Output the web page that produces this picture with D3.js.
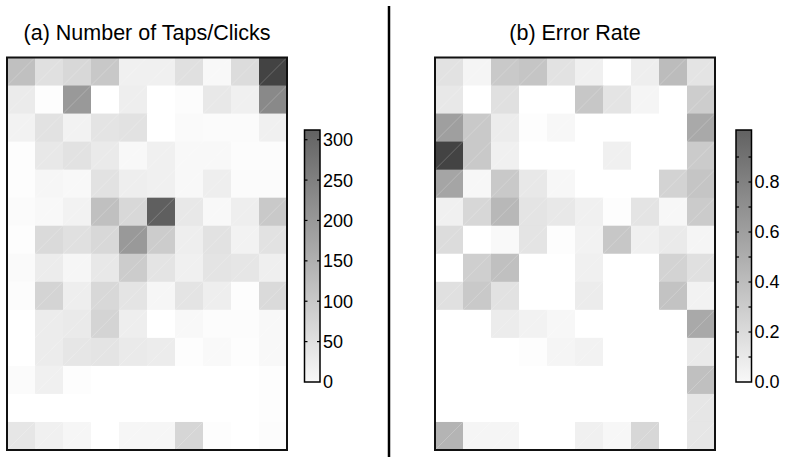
<!DOCTYPE html>
<html>
<head>
<meta charset="utf-8">
<script src="https://cdn.jsdelivr.net/npm/d3@7"></script>
<style>
  body { margin: 0; background: #fff; }
  svg text { font-family: "Liberation Sans", Arial, sans-serif; fill: #000; }
</style>
</head>
<body>
<div class="plot"></div>
<script>
// grid: 14 rows x 10 columns (top row first)
var cols = d3.range(10);
var rows = d3.range(14);

var taps = [
  [103, 51, 64, 90, 24, 24, 51, 11, 57, 305],
  [33, 3, 165, 0, 28, 0, 5, 38, 24, 191],
  [21, 47, 21, 44, 47, 0, 8, 7, 7, 24],
  [3, 38, 47, 34, 11, 24, 11, 11, 5, 5],
  [3, 15, 11, 47, 28, 24, 11, 28, 7, 7],
  [7, 11, 21, 103, 64, 260, 38, 11, 28, 87],
  [3, 60, 51, 64, 165, 83, 28, 47, 21, 47],
  [8, 31, 15, 38, 83, 44, 24, 44, 41, 26],
  [5, 70, 28, 64, 44, 15, 44, 28, 3, 60],
  [0, 31, 34, 70, 28, 0, 11, 5, 5, 11],
  [0, 31, 41, 44, 34, 31, 3, 10, 3, 11],
  [7, 24, 3, 0, 0, 0, 0, 0, 0, 3],
  [0, 0, 0, 0, 0, 0, 0, 0, 0, 3],
  [41, 24, 15, 0, 15, 15, 67, 3, 0, 5]
];

var errors = [
  [0.15, 0.05, 0.28, 0.30, 0.15, 0.08, 0, 0.09, 0.35, 0.14],
  [0.12, 0, 0.16, 0, 0, 0.29, 0.14, 0.05, 0, 0.26],
  [0.50, 0.28, 0.10, 0.01, 0.04, 0, 0, 0, 0, 0.45],
  [0.98, 0.28, 0.08, 0, 0, 0, 0.08, 0, 0, 0.27],
  [0.47, 0.04, 0.28, 0.12, 0.04, 0, 0, 0, 0.23, 0.30],
  [0.08, 0.21, 0.37, 0.14, 0.12, 0.08, 0.01, 0.14, 0.04, 0.27],
  [0.18, 0, 0.03, 0.14, 0.01, 0.07, 0.29, 0.08, 0.11, 0.05],
  [0, 0.25, 0.33, 0, 0, 0.08, 0, 0, 0.23, 0.16],
  [0.16, 0.28, 0.15, 0, 0, 0.10, 0, 0, 0.31, 0.07],
  [0, 0, 0.10, 0.07, 0.04, 0, 0, 0, 0, 0.45],
  [0, 0, 0, 0.01, 0.05, 0.07, 0, 0, 0, 0.11],
  [0, 0, 0, 0, 0, 0, 0, 0, 0, 0.33],
  [0, 0, 0, 0, 0, 0, 0, 0, 0, 0.13],
  [0.39, 0.05, 0.05, 0, 0, 0.08, 0.04, 0.21, 0, 0.13]
];

var tapTicks = [0, 50, 100, 150, 200, 250, 300];
var errTicks = [0, 0.1, 0.2, 0.3, 0.4, 0.5, 0.6, 0.7, 0.8, 0.9];
var errLabels = [0, 0.2, 0.4, 0.6, 0.8];

var width = 790, height = 457;

var svg = d3.select(".plot")
  .append("svg")
  .attr("width", width)
  .attr("height", height);

var defs = svg.append("defs");

// draw one heatmap panel with its colorbar
function panel(opts) {
  var x = d3.scaleBand().domain(cols).range([opts.left, opts.left + 280]);
  var y = d3.scaleBand().domain(rows).range([57.5, 450]);
  var color = d3.scaleLinear().domain([0, opts.max]).range(["#ffffff", "#3f3f3f"]);

  var cells = [];
  opts.data.forEach(function (row, r) {
    row.forEach(function (v, c) { cells.push({ r: r, c: c, v: v }); });
  });

  var g = svg.append("g");
  g.selectAll("rect.cell")
    .data(cells)
    .enter().append("rect")
    .attr("class", "cell")
    .attr("x", function (d) { return x(d.c); })
    .attr("y", function (d) { return y(d.r); })
    .attr("width", x.bandwidth() + 0.5)
    .attr("height", y.bandwidth() + 0.5)
    .attr("fill", function (d) { return color(d.v); });

  // faint seams across the shaded cells, like in the printed figure
  g.selectAll("line.seam")
    .data(cells.filter(function (d) { return d.v > opts.max * 0.03; }))
    .enter().append("line")
    .attr("class", "seam")
    .attr("x1", function (d) { return x(d.c); })
    .attr("y1", function (d) { return y(d.r) + y.bandwidth(); })
    .attr("x2", function (d) { return x(d.c) + x.bandwidth(); })
    .attr("y2", function (d) { return y(d.r); })
    .attr("stroke", "#fff")
    .attr("stroke-opacity", 0.3)
    .attr("stroke-width", 0.7);

  // frame
  g.append("rect")
    .attr("x", opts.left)
    .attr("y", 57.5)
    .attr("width", 280)
    .attr("height", 392.5)
    .attr("fill", "none")
    .attr("stroke", "#111")
    .attr("stroke-width", 2);

  // title
  svg.append("text")
    .attr("x", opts.left + 140)
    .attr("y", 40)
    .attr("text-anchor", "middle")
    .style("font-size", "21.5px")
    .text(opts.title);

  // colorbar
  var cb = { x: opts.cbx, w: 15.5, top: 130, bottom: 382 };
  var cy = d3.scaleLinear().domain([0, opts.cbmax]).range([cb.bottom, cb.top]);
  var cbColor = d3.scaleLinear().domain([0, opts.cbmax]).range(["#f8f8f8", "#626262"]);

  var grad = defs.append("linearGradient")
    .attr("id", opts.id)
    .attr("x1", 0).attr("y1", 1).attr("x2", 0).attr("y2", 0);
  d3.range(0, 1.01, 0.25).forEach(function (t) {
    grad.append("stop")
      .attr("offset", t)
      .attr("stop-color", cbColor(t * opts.cbmax));
  });

  g.append("rect")
    .attr("x", cb.x)
    .attr("y", cb.top)
    .attr("width", cb.w)
    .attr("height", cb.bottom - cb.top)
    .attr("fill", "url(#" + opts.id + ")")
    .attr("stroke", "#000")
    .attr("stroke-width", 1.5);

  // ticks on both edges of the bar
  var tk = g.selectAll("g.tk")
    .data(opts.ticks.filter(function (t) { return t > 0; }))
    .enter().append("g");
  tk.append("line")
    .attr("x1", cb.x).attr("x2", cb.x + 3)
    .attr("y1", function (d) { return cy(d); })
    .attr("y2", function (d) { return cy(d); })
    .attr("stroke", "#000").attr("stroke-width", 1.2);
  tk.append("line")
    .attr("x1", cb.x + cb.w - 3).attr("x2", cb.x + cb.w)
    .attr("y1", function (d) { return cy(d); })
    .attr("y2", function (d) { return cy(d); })
    .attr("stroke", "#000").attr("stroke-width", 1.2);

  g.selectAll("text.lbl")
    .data(opts.labels)
    .enter().append("text")
    .attr("class", "lbl")
    .attr("x", cb.x + cb.w + 3)
    .attr("y", function (d) { return cy(d); })
    .attr("dy", "0.36em")
    .style("font-size", "18px")
    .text(opts.format);
}

panel({
  id: "cbA", title: "(a) Number of Taps/Clicks", data: taps,
  left: 7, max: 312, cbx: 304.5, cbmax: 312,
  ticks: tapTicks, labels: tapTicks, format: d3.format("d")
});

panel({
  id: "cbB", title: "(b) Error Rate", data: errors,
  left: 435, max: 1.0, cbx: 736, cbmax: 1.008,
  ticks: errTicks, labels: errLabels, format: d3.format(".1f")
});

// divider between the two panels
svg.append("line")
  .attr("x1", 389).attr("x2", 389)
  .attr("y1", 6).attr("y2", height)
  .attr("stroke", "#000")
  .attr("stroke-width", 2.5);
</script>
</body>
</html>
